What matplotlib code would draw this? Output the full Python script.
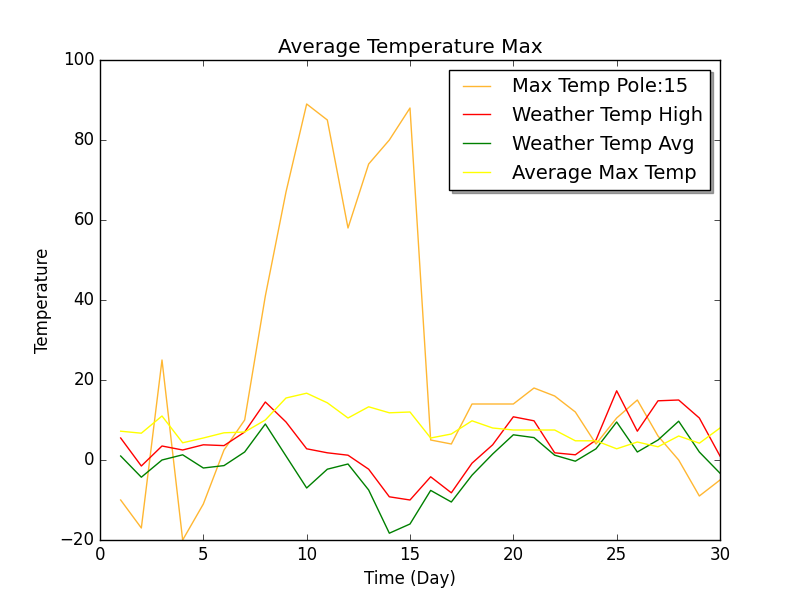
import matplotlib
matplotlib.use('Agg')
import matplotlib.pyplot as plt

days = list(range(1, 31))
pole_max = [-10, -17, 25, -20, -11, 2.5, 10, 41, 67, 89, 85, 58, 74, 80, 88,
            5, 4, 14, 14, 14, 18, 16, 12, 4, 10.5, 15, 6, 0, -9, -5]
weather_high = [5.5, -1.5, 3.5, 2.5, 3.8, 3.6, 7, 14.5, 9.5, 2.8, 1.8, 1.2, -2.3, -9.2, -10,
                -4.2, -8.2, -0.8, 3.8, 10.8, 9.8, 1.8, 1.3, 5, 17.3, 7.2, 14.8, 15, 10.5, 1]
weather_avg = [1, -4.3, 0, 1.3, -2, -1.4, 2, 9, 1, -7, -2.3, -1, -7.5, -18.3, -16,
               -7.6, -10.5, -3.8, 1.5, 6.3, 5.6, 1.2, -0.3, 2.8, 9.5, 2, 5, 9.7, 2, -3.3]
avg_max = [7.2, 6.7, 11, 4.3, 5.5, 6.8, 7, 10, 15.5, 16.7, 14.3, 10.5, 13.3, 11.8, 12,
           5.5, 6.5, 9.8, 8, 7.5, 7.5, 7.5, 4.8, 4.8, 2.8, 4.5, 3.3, 6, 4.2, 8]

plt.style.use('classic')
fig, ax = plt.subplots(figsize=(8, 6), dpi=100)

ax.plot(days, pole_max, color='#ffb732', label='Max Temp Pole:15')
ax.plot(days, weather_high, color='red', label='Weather Temp High')
ax.plot(days, weather_avg, color='green', label='Weather Temp Avg')
ax.plot(days, avg_max, color='yellow', label='Average Max Temp')

ax.set_xlim(0, 30)
ax.set_ylim(-20, 100)
ax.set_title('Average Temperature Max')
ax.set_xlabel('Time (Day)')
ax.set_ylabel('Temperature')
ax.legend(loc='upper right', shadow=True, fancybox=False, fontsize=14)

fig.savefig('out.png')
